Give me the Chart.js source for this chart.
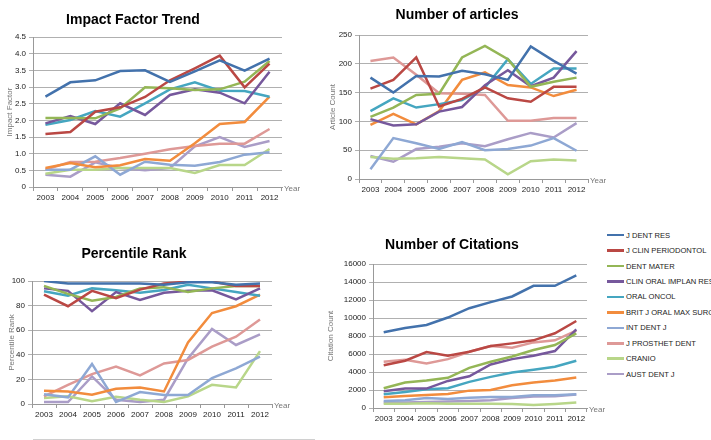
<!DOCTYPE html>
<html>
<head>
<meta charset="utf-8">
<script src="https://cdn.jsdelivr.net/npm/chart.js@4"></script>
<style>
  body { margin: 0; background: #fff; width: 711px; height: 440px; overflow: hidden; position: relative; font-family: "Liberation Sans", Arial, sans-serif; }
  canvas { position: absolute; }
  #legend { position: absolute; left: 607px; top: 227.5px; font-size: 7.6px; color: #222; white-space: nowrap; }
  #legend .row { display: flex; align-items: center; height: 15.44px; }
  #legend .sw { width: 17px; height: 2.5px; margin-right: 2px; }
  #frameLine { position: absolute; left: 33px; top: 439px; width: 282px; height: 1px; background: #d0d0d0; }
</style>
</head>
<body>
<canvas id="c1" width="316" height="209" style="left:-16px;top:0px"></canvas>
<canvas id="c2" width="282" height="201" style="left:326px;top:0px"></canvas>
<canvas id="c3" width="296" height="211" style="left:-4px;top:215px"></canvas>
<canvas id="c4" width="290" height="215" style="left:317px;top:215px"></canvas>
<div id="legend"></div>
<div id="frameLine"></div>
<script>
const years = ['2003', '2004', '2005', '2006', '2007', '2008', '2009', '2010', '2011', '2012'];
const journals = ['J DENT RES', 'J CLIN PERIODONTOL', 'DENT MATER', 'CLIN ORAL IMPLAN RES', 'ORAL ONCOL',
  'BRIT J ORAL MAX SURG', 'INT DENT J', 'J PROSTHET DENT', 'CRANIO', 'AUST DENT J'];

// one row per journal, same order as journals
const impactFactor = [
  [2.71, 3.14, 3.2, 3.48, 3.5, 3.15, 3.47, 3.8, 3.49, 3.85],
  [1.59, 1.65, 2.26, 2.39, 2.7, 3.2, 3.56, 3.94, 2.99, 3.7],
  [2.07, 2.07, 2.06, 2.36, 2.99, 2.96, 2.91, 2.93, 3.16, 3.78],
  [1.91, 2.13, 1.89, 2.51, 2.16, 2.76, 2.93, 2.83, 2.51, 3.46],
  [1.87, 2.01, 2.28, 2.11, 2.51, 2.93, 3.14, 2.89, 2.88, 2.71],
  [0.57, 0.72, 0.59, 0.65, 0.84, 0.79, 1.31, 1.89, 1.95, 2.71],
  [0.52, 0.52, 0.92, 0.37, 0.76, 0.67, 0.64, 0.75, 0.97, 1.04],
  [0.52, 0.75, 0.76, 0.87, 1.0, 1.13, 1.23, 1.3, 1.3, 1.74],
  [0.4, 0.52, 0.52, 0.57, 0.57, 0.57, 0.42, 0.66, 0.66, 1.14],
  [0.37, 0.31, 0.74, 0.57, 0.5, 0.57, 1.22, 1.5, 1.2, 1.38]
];
const articleCount = [
  [176, 150, 179, 178, 188, 182, 172, 230, 205, 183],
  [157, 172, 211, 126, 139, 159, 140, 134, 160, 160],
  [108, 124, 146, 148, 211, 231, 208, 160, 169, 176],
  [104, 93, 95, 117, 125, 163, 189, 161, 176, 222],
  [118, 140, 124, 130, 137, 159, 208, 165, 192, 192],
  [94, 113, 95, 118, 172, 185, 163, 159, 144, 155],
  [17, 71, 62, 52, 64, 50, 52, 58, 71, 49],
  [205, 211, 181, 149, 148, 146, 101, 101, 106, 106],
  [38, 35, 36, 38, 36, 34, 8, 31, 34, 32],
  [40, 30, 52, 56, 62, 57, 69, 80, 72, 97]
];
const percentileRank = [
  [100, 98, 98, 98, 98, 97, 99, 99, 97, 98],
  [89, 79.5, 92, 86, 93, 98, 99.5, 99.5, 96, 96],
  [96, 89.5, 84, 87, 94, 95, 91, 94, 96, 96],
  [94, 92, 75.5, 91, 84.6, 90.5, 92, 92.5, 85, 94],
  [91.6, 88, 94, 92.5, 90.5, 92.7, 97, 94, 91, 88],
  [10.8, 10.2, 7.5, 12.4, 13.5, 10.2, 50, 74, 79.5, 89],
  [8, 5.4, 32.6, 1.6, 9.7, 7.3, 7.3, 21, 29, 38.5],
  [6.2, 15.6, 24.3, 30.5, 23.2, 33, 35.8, 46.6, 54.7, 68.7],
  [4.9, 6.2, 2.2, 5.9, 3.5, 1.6, 6.2, 15.6, 13.5, 43],
  [1.6, 1.6, 22.4, 3.5, 1.6, 3.5, 37, 61, 48, 56.6]
];
const citationCount = [
  [8410, 8890, 9230, 10050, 11090, 11760, 12390, 13580, 13580, 14730],
  [4760, 5250, 6210, 5800, 6250, 6880, 7180, 7520, 8300, 9670],
  [2200, 2830, 3050, 3350, 4460, 5130, 5730, 6440, 7000, 8300],
  [1860, 2160, 2160, 3010, 3530, 4840, 5430, 5800, 6330, 8740],
  [1530, 1790, 2080, 2200, 2900, 3460, 3940, 4240, 4580, 5250],
  [1190, 1340, 1450, 1560, 1930, 2010, 2530, 2830, 3050, 3390],
  [780, 860, 1120, 1000, 1150, 1230, 1230, 1410, 1410, 1530],
  [5130, 5360, 4950, 5430, 6250, 6880, 6700, 7290, 7520, 8600],
  [480, 480, 520, 480, 480, 480, 450, 330, 450, 600],
  [600, 600, 670, 710, 780, 860, 1120, 1270, 1300, 1490]
];

const impactTicks = ['0', '0.5', '1.0', '1.5', '2.0', '2.5', '3.0', '3.5', '4.0', '4.5'];
const articleTicks = ['0', '50', '100', '150', '200', '250'];
const rankTicks = ['0', '10', '20', '30', '40', '50', '60', '70', '80', '90', '100'];
const citationTicks = ['0', '2000', '4000', '6000', '8000', '10000', '12000', '14000', '16000'];

const lineColors = ['#4372AC', '#BA4844', '#94B656', '#76589C', '#45A6C0', '#F28C3D',
  '#8EA8D4', '#DE9997', '#B8D689', '#AA9DC7'];

const FONT = '"Liberation Sans", Arial, sans-serif';

// the little "Year" word at the right end of the x axis
const yearLabel = {
  id: 'yearLabel',
  afterDraw(chart) {
    const { ctx, chartArea } = chart;
    ctx.save();
    ctx.font = '8px ' + FONT;
    ctx.fillStyle = '#777';
    ctx.textBaseline = 'middle';
    ctx.fillText('Year', chartArea.right + 2, chartArea.bottom + 2);
    ctx.restore();
  }
};

function makeChart(id, title, rows, tickLabels, yTitle, opt) {
  const step = Number(tickLabels[1]);
  const max = Number(tickLabels[tickLabels.length - 1]);
  return new Chart(document.getElementById(id), {
    type: 'line',
    data: {
      labels: years,
      datasets: rows.map((r, i) => ({
        label: journals[i],
        data: r,
        borderColor: lineColors[i],
        backgroundColor: lineColors[i],
        borderWidth: 2.5,
        pointRadius: 0,
        tension: 0
      }))
    },
    options: {
      responsive: false,
      animation: false,
      layout: { padding: { left: 0, right: opt.right, top: 0, bottom: 0 } },
      plugins: {
        legend: { display: false },
        tooltip: { enabled: false },
        title: {
          display: true,
          text: title,
          color: '#000',
          font: { family: FONT, size: 14, weight: 'bold' },
          padding: { top: opt.tTop, bottom: opt.tBottom }
        }
      },
      scales: {
        x: {
          offset: true,
          grid: { offset: true, drawOnChartArea: false, color: '#999', tickLength: 4 },
          border: { color: '#999' },
          ticks: { color: '#222', font: { family: FONT, size: 8 }, padding: 2, autoSkip: false, maxRotation: 0 },
          afterFit(s) { s.height = 22; }
        },
        y: {
          min: 0,
          max: max,
          ticks: {
            stepSize: step,
            color: '#222',
            font: { family: FONT, size: 8 },
            padding: 3,
            callback: (v, i) => tickLabels[i]
          },
          grid: { color: '#b0b0b0', tickLength: 4 },
          border: { color: '#999' },
          title: {
            display: true,
            text: yTitle,
            color: '#777',
            font: { family: FONT, size: 8 },
            padding: { top: opt.yt, bottom: 0 }
          },
          afterFit(s) { s.width = opt.left; }
        }
      }
    },
    plugins: [yearLabel]
  });
}

makeChart('c1', 'Impact Factor Trend', impactFactor, impactTicks, 'Impact Factor',
  { left: 49, right: 18, tTop: 11.6, tBottom: 8.6, yt: 21.2 });
makeChart('c2', 'Number of articles', articleCount, articleTicks, 'Article Count',
  { left: 33, right: 20, tTop: 6.6, tBottom: 11.6, yt: 2.2 });
makeChart('c3', 'Percentile Rank', percentileRank, rankTicks, 'Percentile Rank',
  { left: 36, right: 20, tTop: 30.6, tBottom: 18.6, yt: 11.2 });
makeChart('c4', 'Number of Citations', citationCount, citationTicks, 'Citation Count',
  { left: 56, right: 20, tTop: 21.6, tBottom: 10.6, yt: 9.2 });

// legend for all four panels
const legend = document.getElementById('legend');
journals.forEach((name, i) => {
  const row = document.createElement('div');
  row.className = 'row';
  const sw = document.createElement('span');
  sw.className = 'sw';
  sw.style.background = lineColors[i];
  row.appendChild(sw);
  row.appendChild(document.createTextNode(name));
  legend.appendChild(row);
});
</script>
</body>
</html>
